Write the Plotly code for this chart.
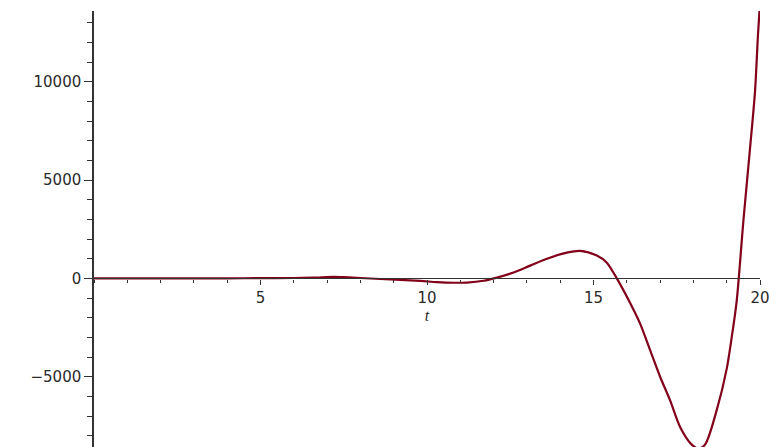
import plotly.graph_objects as go

# data
t_vals = [0, 1, 2, 3, 4, 5, 6, 6.6, 7.0, 7.2, 7.5, 8.0, 8.6, 9.2, 9.8, 10.3, 10.8, 11.2, 11.7,
          12.1, 12.6, 13.1, 13.6, 14.2, 14.6, 15.1, 15.4, 15.7, 16.1, 16.4, 16.7, 17.0, 17.3, 17.6,
          17.95, 18.15, 18.35, 18.7, 19.0, 19.15, 19.3, 19.5, 19.7, 19.85, 19.94, 20.0, 20.05]
y_vals = [0, 0, 0, 2, 5, 10, 20, 40, 70, 80, 65, 20, -30, -80, -130, -190, -220, -210, -120,
          40, 300, 650, 1000, 1310, 1400, 1160, 800, 0, -1250, -2300, -3650, -5000, -6200, -7550,
          -8450, -8650, -8450, -6700, -4600, -3000, -1150, 2900, 6600, 9500, 12400, 14000, 15500]

x_tick_vals = [5, 10, 15, 20]
x_tick_labels = ["5", "10", "15", "20"]
y_tick_vals = [-5000, 0, 5000, 10000]
y_tick_labels = ["\u22125000", "0", "5000", "10000"]

x_range = [0, 20]
y_range = [-8573, 13597]

axis_color = "#333333"
label_font = dict(family="DejaVu Sans", size=15, color="#2a2a2a")

fig = go.Figure()
fig.add_trace(go.Scatter(
    x=t_vals, y=y_vals, mode="lines",
    line=dict(color="#820018", width=2.2, shape="spline", smoothing=0.8),
    hoverinfo="skip", showlegend=False, cliponaxis=True,
))

zero_pos = (0 - y_range[0]) / (y_range[1] - y_range[0])

fig.update_layout(
    width=769, height=447,
    margin=dict(l=94, r=9, t=11, b=0, autoexpand=False),
    paper_bgcolor="white", plot_bgcolor="white",
    showlegend=False,
    xaxis=dict(
        range=x_range, anchor="free", position=zero_pos, automargin=False,
        showline=True, linecolor=axis_color, linewidth=1.3,
        showgrid=False, zeroline=False,
        tickmode="array", tickvals=x_tick_vals, ticktext=x_tick_labels,
        ticks="outside", ticklen=5, tickwidth=1.3, tickcolor=axis_color,
        minor=dict(dtick=1, ticks="outside", ticklen=3, tickwidth=1.3, tickcolor=axis_color),
        tickfont=label_font, ticklabeloverflow="allow",
        title=dict(text="<i>t</i>", font=dict(family="Liberation Serif", size=16, color="#2a2a2a"),
                   standoff=0),
    ),
    yaxis=dict(
        range=y_range, automargin=False,
        showline=True, linecolor=axis_color, linewidth=1.5,
        showgrid=False, zeroline=False,
        tickmode="array", tickvals=y_tick_vals, ticktext=y_tick_labels,
        ticks="outside", ticklen=8, tickwidth=1.3, tickcolor=axis_color,
        minor=dict(dtick=1000, ticks="outside", ticklen=5, tickwidth=1.3, tickcolor=axis_color),
        tickfont=label_font,
    ),
)

fig.write_html(
    "out.html",
    config={"displayModeBar": False},
    post_script="document.body.style.margin='0';document.body.style.overflow='hidden';",
)
